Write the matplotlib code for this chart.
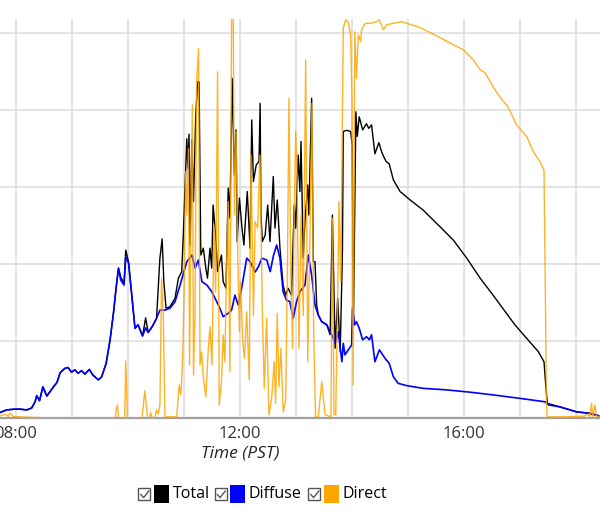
import matplotlib

matplotlib.use("Agg")
import matplotlib.pyplot as plt
from matplotlib.patches import Rectangle
from matplotlib.ticker import MultipleLocator, FixedLocator

plt.rcParams["font.family"] = ["Open Sans", "DejaVu Sans"]

# ---- data (time in decimal hours PST, irradiance W/m2) ----
diffuse_t = [7.71, 7.83, 7.98, 8.07, 8.19, 8.28, 8.34, 8.37, 8.42, 8.48, 8.55, 8.67, 8.73, 8.79,
             8.875, 8.93, 8.99, 9.05, 9.11, 9.17, 9.23, 9.31, 9.37, 9.47, 9.53, 9.61, 9.68, 9.74,
             9.79, 9.83, 9.87, 9.93, 9.96, 10.01, 10.07, 10.125, 10.18, 10.26, 10.315, 10.36,
             10.44, 10.51, 10.57, 10.66, 10.75, 10.84, 10.93, 10.99, 11.05, 11.14, 11.20, 11.255,
             11.32, 11.41, 11.495, 11.585, 11.64, 11.70, 11.79, 11.85, 11.91, 11.97, 12.03, 12.12,
             12.18, 12.27, 12.33, 12.39, 12.48, 12.54, 12.60, 12.655, 12.714, 12.77, 12.83, 12.89,
             12.95, 13.01, 13.07, 13.16, 13.22, 13.28, 13.34, 13.40, 13.46, 13.55, 13.64, 13.70,
             13.755, 13.82, 13.845, 13.875, 13.995, 14.01, 14.05, 14.08, 14.13, 14.19, 14.26,
             14.31, 14.35, 14.41, 14.49, 14.59, 14.665, 14.74, 14.825, 14.98, 15.27, 15.69, 16.11,
             16.52, 17.0, 17.45, 17.51, 17.71, 18.01, 18.25, 18.43]
diffuse_v = [14, 21, 23, 23, 21, 26, 42, 58, 45, 81, 57, 81, 92, 118,
             129, 131, 119, 125, 116, 123, 114, 126, 112, 99, 107, 142, 203, 272,
             341, 389, 358, 345, 418, 402, 315, 233, 242, 213, 234, 222,
             239, 259, 280, 280, 285, 302, 345, 376, 406, 423, 389, 410,
             354, 345, 328, 302, 285, 263, 272, 280, 319, 293, 337, 415,
             406, 379, 393, 415, 410, 380, 423, 449, 415, 328, 306, 302,
             259, 302, 328, 345, 423, 371, 293, 267, 250, 242, 216, 194,
             224, 146, 194, 164, 190, 285, 242, 250, 233, 203, 211,
             203, 216, 146, 177, 155, 142, 107, 90, 84, 77, 73, 67,
             60, 51, 42, 34, 29, 16, 12, 5]

total_t = [7.71, 7.83, 7.98, 8.07, 8.19, 8.28, 8.34, 8.37, 8.42, 8.48, 8.55, 8.67, 8.73, 8.79,
           8.875, 8.93, 8.99, 9.05, 9.11, 9.17, 9.23, 9.31, 9.37, 9.47, 9.53, 9.61, 9.68, 9.74,
           9.79, 9.83, 9.875, 9.93, 9.96, 10.01, 10.07, 10.125, 10.18, 10.26, 10.315, 10.36,
           10.44, 10.51, 10.57, 10.61, 10.64, 10.68, 10.75, 10.84, 10.90, 10.96, 10.99, 11.03,
           11.05, 11.07, 11.09, 11.11, 11.14, 11.17, 11.21, 11.245, 11.27, 11.30, 11.345, 11.39,
           11.42, 11.464, 11.495, 11.52, 11.565, 11.60, 11.64, 11.67, 11.70, 11.75, 11.79, 11.82,
           11.86, 11.90, 11.93, 11.95, 11.99, 12.036, 12.07, 12.13, 12.18, 12.21, 12.24, 12.29,
           12.34, 12.36, 12.375, 12.40, 12.45, 12.495, 12.536, 12.595, 12.625, 12.666, 12.714,
           12.77, 12.816, 12.86, 12.92, 12.97, 12.995, 13.04, 13.07, 13.09, 13.13, 13.16, 13.21,
           13.23, 13.28, 13.31, 13.34, 13.37, 13.40, 13.46, 13.55, 13.61, 13.65, 13.70, 13.745,
           13.79, 13.83, 13.845, 13.905, 13.976, 14.005, 14.026, 14.07, 14.095, 14.13, 14.19,
           14.26, 14.30, 14.35, 14.41, 14.48, 14.54, 14.61, 14.665, 14.74, 14.86, 15.04, 15.27,
           15.57, 15.81, 16.05, 16.29, 16.52, 16.91, 17.12, 17.33, 17.43, 17.465, 17.49, 17.71,
           18.01, 18.25, 18.43]
total_v = [14, 21, 23, 23, 21, 26, 42, 58, 45, 81, 57, 81, 92, 118,
           129, 131, 119, 125, 116, 123, 114, 126, 112, 99, 107, 142, 203, 272,
           341, 389, 364, 351, 436, 405, 315, 233, 242, 213, 260, 222,
           239, 259, 415, 465, 354, 285, 289, 311, 363, 380, 484, 640,
           725, 648, 737, 449, 722, 562, 787, 873, 873, 423, 441, 389,
           363, 441, 389, 553, 475, 380, 406, 423, 354, 337, 597, 519,
           882, 631, 748, 458, 571, 493, 449, 588, 441, 774, 614, 657,
           666, 817, 527, 458, 475, 553, 458, 627, 493, 566, 441,
           345, 319, 337, 319, 553, 493, 683, 588, 718, 415, 510, 605,
           527, 830, 406, 406, 293, 267, 250, 242, 216, 527, 181, 311,
           172, 436, 744, 747, 744, 709, 240, 795, 731, 782, 748,
           764, 752, 761, 686, 715, 687, 666, 660, 618, 588, 566, 540,
           497, 462, 415, 363, 319, 242, 207, 172, 146, 77, 38, 29,
           16, 12, 5]

direct_t = [7.71, 7.80, 7.86, 7.89, 7.95, 8.07, 8.43, 8.79, 9.77, 9.79, 9.81, 9.83, 9.94, 9.96,
            9.99, 10.25, 10.30, 10.35, 10.385, 10.405, 10.43, 10.48, 10.51, 10.54, 10.57, 10.60,
            10.63, 10.66, 10.87, 10.915, 10.945, 10.98, 11.005, 11.03, 11.05, 11.08, 11.10,
            11.125, 11.15, 11.17, 11.196, 11.226, 11.26, 11.286, 11.315, 11.345, 11.39, 11.435,
            11.464, 11.50, 11.536, 11.566, 11.60, 11.63, 11.67, 11.70, 11.73, 11.76, 11.79, 11.82,
            11.85, 11.88, 11.90, 11.93, 11.96, 11.99, 12.01, 12.05, 12.08, 12.12, 12.166, 12.196,
            12.24, 12.27, 12.316, 12.357, 12.40, 12.434, 12.476, 12.517, 12.566, 12.61, 12.637,
            12.666, 12.696, 12.73, 12.773, 12.816, 12.845, 12.875, 12.91, 12.94, 12.964, 12.995,
            13.02, 13.054, 13.09, 13.13, 13.173, 13.21, 13.25, 13.286, 13.316, 13.35, 13.40,
            13.46, 13.52, 13.625, 13.65, 13.68, 13.71, 13.745, 13.768, 13.80, 13.826, 13.845,
            13.887, 13.934, 13.976, 14.0, 14.02, 14.05, 14.08, 14.113, 14.155, 14.17, 14.23,
            14.26, 14.35, 14.44, 14.487, 14.56, 14.62, 14.737, 14.887, 15.036, 15.214, 15.393,
            15.57, 15.81, 15.99, 16.166, 16.29, 16.375, 16.52, 16.64, 16.79, 16.94, 17.12, 17.238,
            17.357, 17.43, 17.446, 17.473, 17.487, 17.71, 17.98, 18.16, 18.21, 18.25, 18.28, 18.30,
            18.34, 18.365, 18.43]
direct_v = [5, 10, 4, 13, 4, 3, 1, 0, 0, 21, 34, 0, 0, 148,
            0, 0, 70, 0, 0, 14, 0, 0, 21, 10, 34, 363,
            267, 3, 3, 86, 60, 172, 354, 640, 527, 700, 138,
            562, 813, 112, 267, 873, 960, 138, 172, 107, 55, 181,
            237, 138, 501, 328, 899, 34, 94, 216, 146, 389, 562, 120,
            1039, 1039, 527, 744, 423, 224, 354, 198, 155, 276, 99, 683,
            267, 510, 493, 683, 267, 77, 259, 8, 51, 146, 38,
            272, 81, 181, 16, 47, 354, 830, 354, 181, 484, 744,
            631, 181, 527, 267, 930, 146, 484, 817, 224, 3, 3,
            94, 8, 3, 519, 8, 8, 311, 562, 354, 726, 1013,
            1034, 1028, 995, 826, 86, 1003, 882, 995, 977, 1008, 1023,
            1025, 1025, 1029, 1034, 1008, 1021, 1025, 1029, 1022, 1014, 1001,
            988, 969, 956, 930, 904, 897, 860, 834, 807, 761, 731, 692,
            666, 644, 436, 47, 3, 3, 4, 5, 10, 4, 38, 4,
            34, 4, 5]

series_labels = ["Total", "Diffuse", "Direct"]
series_colors = ["#000000", "#0000ff", "#ffa500"]
hour_labels = {8: "08:00", 12: "12:00", 16: "16:00"}

fig = plt.figure(figsize=(6.0, 5.21), dpi=100)
ax = fig.add_axes([0, 103 / 521, 1, 399 / 521])

ax.plot(total_t, total_v, color=series_colors[0], lw=1.0, zorder=3)
ax.plot(diffuse_t, diffuse_v, color=series_colors[1], lw=1.2, zorder=4)
ax.plot(direct_t, direct_v, color=series_colors[2], lw=1.0, alpha=0.85, zorder=5)

ax.set_xlim(7.714, 18.43)
ax.set_ylim(0, 1036)
ax.xaxis.set_major_locator(FixedLocator(list(hour_labels)))
ax.set_xticklabels(list(hour_labels.values()))
ax.xaxis.set_minor_locator(MultipleLocator(1))
ax.yaxis.set_major_locator(MultipleLocator(200))
ax.set_yticklabels([])
ax.grid(True, which="both", color="#dedede", lw=1.2, zorder=0)
ax.tick_params(axis="both", which="both", length=0)
ax.tick_params(axis="x", pad=6, labelsize=12, labelcolor="#333333")
for side in ("top", "left", "right"):
    ax.spines[side].set_visible(False)
ax.spines["bottom"].set_color("#a0a0a0")
ax.spines["bottom"].set_linewidth(1.6)
ax.set_axisbelow(True)

fig.text(240 / 600, 1 - 454 / 521, "Time (PST)", ha="center", va="center",
         fontsize=12.5, style="italic", color="#222222")

# legend drawn in pixel space
lg = fig.add_axes([0, 0, 1, 1], facecolor="none")
lg.set_xlim(0, 600)
lg.set_ylim(521, 0)
lg.axis("off")
for x0, lab, col in zip([138, 214.5, 308], series_labels, series_colors):
    lg.add_patch(Rectangle((x0, 488), 12.3, 12.3, fill=False, ec="#555555", lw=1.0))
    lg.plot([x0 + 2.8, x0 + 5.6, x0 + 10.8], [494.5, 497.6, 491.0], color="#555555", lw=1.0)
    lg.add_patch(Rectangle((x0 + 15.5, 485), 15, 18.3, color=col, lw=0))
    lg.text(x0 + 34.5, 494.5, lab, ha="left", va="center", fontsize=11.5, color="#000000")

fig.savefig("out.png", dpi=100)
